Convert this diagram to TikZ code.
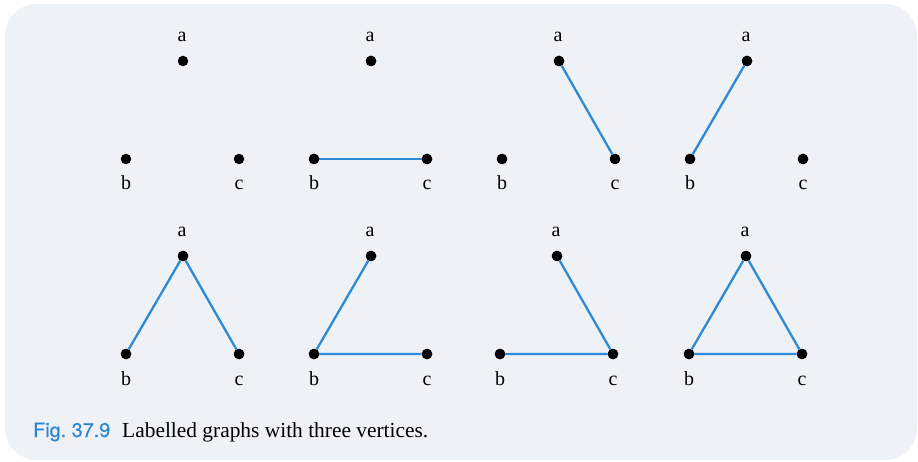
\documentclass[tikz,border=0pt]{standalone}
\usepackage{fontspec}
\setmainfont{Liberation Serif}
\newfontfamily\capsans[FakeBold=0.6]{TeX Gyre Heros}
\definecolor{panel}{HTML}{EEF2F7}
\definecolor{edgeblue}{HTML}{2D8AD6}
\definecolor{capblue}{HTML}{2B87D2}
\begin{document}
\begin{tikzpicture}[x=1pt,y=-1pt,
  vtx/.style={circle,fill=black,inner sep=0pt,minimum size=10.5pt},
  lbl/.style={inner sep=0pt,anchor=base,font=\fontsize{20}{24}\selectfont},
  edge/.style={draw=edgeblue,line width=2.3pt}]
\useasboundingbox (0,0) rectangle (918,462);
\fill[white] (0,0) rectangle (918,462);
\fill[panel,rounded corners=32pt] (5,4) rectangle (917,460);
% vertices
\foreach \i/\ax/\ay in {1/183/61,2/371/61,3/559/61,4/747/61,5/183/256,6/371/256,7/557/256,8/746/256}{
  \node[vtx] (a\i) at (\ax,\ay) {};
  \node[vtx] (b\i) at (\ax-57,\ay+98) {};
  \node[vtx] (c\i) at (\ax+56,\ay+98) {};
  \node[lbl] (la\i) at (\ax-1,\ay-19) {a};
  \node[lbl] (lb\i) at (\ax-57,\ay+129) {b};
  \node[lbl] (lc\i) at (\ax+56,\ay+129) {c};
}
% edges
\draw[edge] (b2) -- (c2);
\draw[edge] (a3) -- (c3);
\draw[edge] (a4) -- (b4);
\draw[edge] (b5) -- (a5) -- (c5);
\draw[edge] (a6) -- (b6) -- (c6);
\draw[edge] (a7) -- (c7) -- (b7);
\draw[edge] (a8) -- (b8) -- (c8) -- (a8);
% redraw dots on top
\foreach \i in {2,...,8}{
  \fill (a\i) circle (5.25pt);
  \fill (b\i) circle (5.25pt);
  \fill (c\i) circle (5.25pt);
}
\node[inner sep=0pt,anchor=base west] (cap) at (33,437)
  {{\capsans\color{capblue}\fontsize{19.8}{22}\selectfont Fig.~37.9}\hspace{12pt}{\fontsize{21.4}{26}\selectfont Labelled graphs with three vertices.}};
\end{tikzpicture}
\end{document}
